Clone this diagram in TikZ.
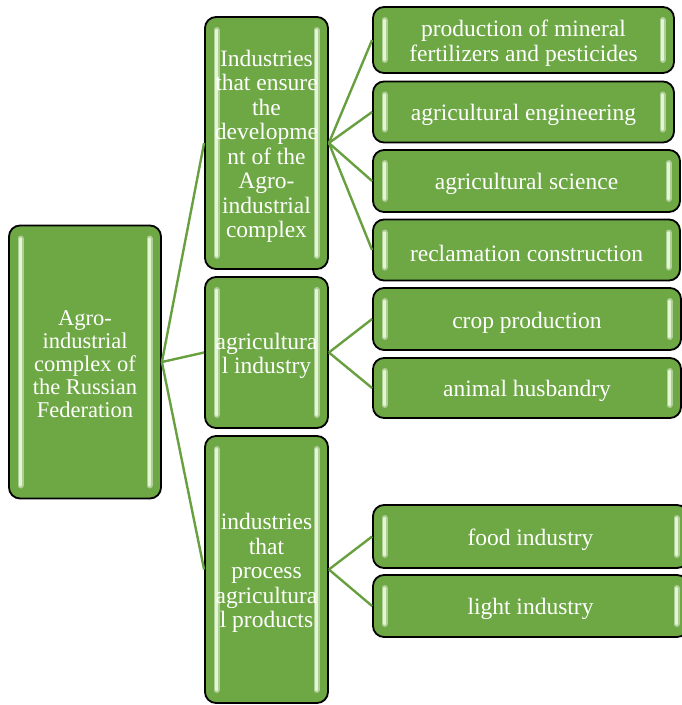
\documentclass[tikz,border=0pt]{standalone}
\usepackage{fontspec}
\setmainfont{Liberation Serif}
\newfontfamily\tnr{Liberation Serif}
\newcommand\tstrut{\rule{0pt}{23pt}}
\definecolor{boxgreen}{HTML}{6DA844}
\definecolor{hlgreen}{HTML}{E3F5D3}
\definecolor{conngreen}{HTML}{68A040}
\tikzset{
  box/.style={rectangle, rounded corners=11pt, draw=black, line width=1.8pt,
    fill=boxgreen, text=white, align=center, inner sep=0pt,
    font=\tnr\fontsize{23.5}{24.5}\selectfont,
    path picture={
      \draw[line width=6pt, boxgreen!55!white, line cap=round]
        ([xshift=11.5pt,yshift=-13pt]path picture bounding box.north west) --
        ([xshift=11.5pt,yshift=13pt]path picture bounding box.south west);
      \draw[line width=2.4pt, hlgreen, line cap=round]
        ([xshift=11.5pt,yshift=-13pt]path picture bounding box.north west) --
        ([xshift=11.5pt,yshift=13pt]path picture bounding box.south west);
      \draw[line width=6pt, boxgreen!55!white, line cap=round]
        ([xshift=-11.5pt,yshift=-13pt]path picture bounding box.north east) --
        ([xshift=-11.5pt,yshift=13pt]path picture bounding box.south east);
      \draw[line width=2.4pt, hlgreen, line cap=round]
        ([xshift=-11.5pt,yshift=-13pt]path picture bounding box.north east) --
        ([xshift=-11.5pt,yshift=13pt]path picture bounding box.south east);
    }},
  conn/.style={draw=conngreen, line width=2.4pt}
}
\begin{document}
\begin{tikzpicture}[x=1pt,y=-1pt]
\useasboundingbox (0,0) rectangle (681,705);
% root
\node[box, minimum width=152pt, minimum height=273pt, font=\tnr\fontsize{22.5}{23}\selectfont] (root) at (85,362)
  {\rule{0pt}{20pt}Agro-\\industrial\\complex of\\the Russian\\Federation};
% middle
\node[box, minimum width=123pt, minimum height=252pt] (m1) at (266.5,143)
  {\tstrut Industries\\that ensure\\the\\developme\\nt of the\\Agro-\\industrial\\complex};
\node[box, minimum width=123pt, minimum height=151pt] (m2) at (266.5,352.5)
  {\tstrut agricultura\\l industry};
\node[box, minimum width=123pt, minimum height=267pt] (m3) at (266.5,569.5)
  {\tstrut industries\\that\\process\\agricultura\\l products};
% right
\node[box, minimum width=301pt, minimum height=66pt] (r1) at (523.5,40)
  {\tstrut production of mineral\\fertilizers and pesticides};
\node[box, minimum width=301pt, minimum height=61pt] (r2) at (523.5,112)
  {\tstrut agricultural engineering};
\node[box, minimum width=307pt, minimum height=62pt] (r3) at (526.5,181)
  {\tstrut agricultural science};
\node[box, minimum width=307pt, minimum height=61pt] (r4) at (526.5,250)
  {\tstrut reclamation construction};
\node[box, minimum width=308pt, minimum height=62pt] (r5) at (527,319)
  {\tstrut crop production};
\node[box, minimum width=308pt, minimum height=60pt] (r6) at (527,388)
  {\tstrut animal husbandry};
\node[box, minimum width=315pt, minimum height=63pt] (r7) at (530.5,536.5)
  {\tstrut food industry};
\node[box, minimum width=315pt, minimum height=62pt] (r8) at (530.5,606)
  {\tstrut light industry};
% connectors
\draw[conn] (root.east) -- (m1.west);
\draw[conn] (root.east) -- (m2.west);
\draw[conn] (root.east) -- (m3.west);
\draw[conn] (m1.east) -- (r1.west);
\draw[conn] (m1.east) -- (r2.west);
\draw[conn] (m1.east) -- (r3.west);
\draw[conn] (m1.east) -- (r4.west);
\draw[conn] (m2.east) -- (r5.west);
\draw[conn] (m2.east) -- (r6.west);
\draw[conn] (m3.east) -- (r7.west);
\draw[conn] (m3.east) -- (r8.west);
\end{tikzpicture}
\end{document}
